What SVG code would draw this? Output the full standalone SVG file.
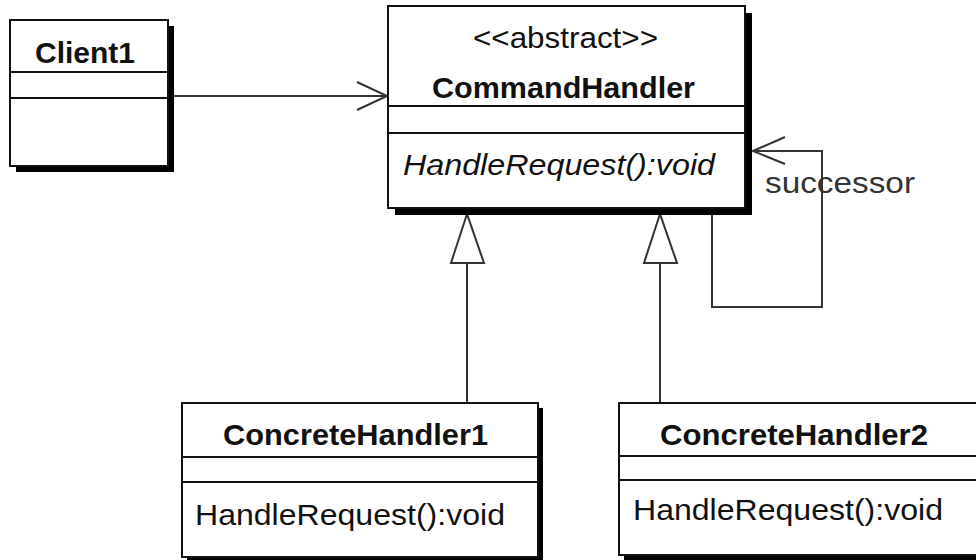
<svg xmlns="http://www.w3.org/2000/svg" width="976" height="560" viewBox="0 0 976 560">
<style>
.box{fill:#fff;stroke:#111;stroke-width:2}
.sh{fill:#000}
.div{stroke:#111;stroke-width:2}
.t{font-family:"Liberation Sans",Arial,sans-serif;fill:#111}
.b{font-weight:bold;font-size:30px}
.r{font-size:30px}
.conn{fill:none;stroke:#333;stroke-width:2}
</style>
<rect width="976" height="560" fill="#fff"/>
<g id="connectors">
  <path class="conn" d="M174,96 H387"/>
  <path class="conn" d="M357,82 L387,96 L357,110"/>
  <path class="conn" d="M467,403 V263"/>
  <path class="conn" d="M467,214 L451,263 H484 Z" fill="#fff"/>
  <path class="conn" d="M660,403 V263"/>
  <path class="conn" d="M660,214 L644,263 H677 Z" fill="#fff"/>
  <path class="conn" d="M712,215 V307 H822 V151 H753"/>
  <path class="conn" d="M785,137 L753,151 L785,164"/>
  <text class="t r" x="765" y="193" style="fill:#333" textLength="150" lengthAdjust="spacingAndGlyphs">successor</text>
</g>
<g id="client1">
  <rect class="sh" x="16" y="26" width="158" height="146"/>
  <rect class="box" x="10" y="20" width="158" height="146"/>
  <line class="div" x1="10" y1="72" x2="168" y2="72"/>
  <line class="div" x1="10" y1="98" x2="168" y2="98"/>
  <text class="t b" x="35" y="63" textLength="100" lengthAdjust="spacingAndGlyphs">Client1</text>
</g>
<g id="commandhandler">
  <rect class="sh" x="395" y="13" width="357" height="202"/>
  <rect class="box" x="388" y="6" width="357" height="202"/>
  <line class="div" x1="388" y1="106" x2="745" y2="106"/>
  <line class="div" x1="388" y1="133" x2="745" y2="133"/>
  <text class="t r" x="473" y="48" textLength="185" lengthAdjust="spacingAndGlyphs">&lt;&lt;abstract&gt;&gt;</text>
  <text class="t b" x="432" y="98" textLength="263" lengthAdjust="spacingAndGlyphs">CommandHandler</text>
  <text class="t r" x="403" y="175" font-style="italic" textLength="312" lengthAdjust="spacingAndGlyphs">HandleRequest():void</text>
</g>
<g id="concretehandler1">
  <rect class="sh" x="187" y="408" width="356" height="154"/>
  <rect class="box" x="182" y="403" width="356" height="154"/>
  <line class="div" x1="182" y1="457" x2="538" y2="457"/>
  <line class="div" x1="182" y1="482" x2="538" y2="482"/>
  <text class="t b" x="223" y="445" textLength="265" lengthAdjust="spacingAndGlyphs">ConcreteHandler1</text>
  <text class="t r" x="195" y="525" textLength="310" lengthAdjust="spacingAndGlyphs">HandleRequest():void</text>
</g>
<g id="concretehandler2">
  <rect class="sh" x="624" y="408" width="360" height="152"/>
  <rect class="box" x="619" y="403" width="360" height="152"/>
  <line class="div" x1="619" y1="456" x2="979" y2="456"/>
  <line class="div" x1="619" y1="480" x2="979" y2="480"/>
  <text class="t b" x="660" y="445" textLength="268" lengthAdjust="spacingAndGlyphs">ConcreteHandler2</text>
  <text class="t r" x="633" y="520" textLength="310" lengthAdjust="spacingAndGlyphs">HandleRequest():void</text>
</g>
</svg>
